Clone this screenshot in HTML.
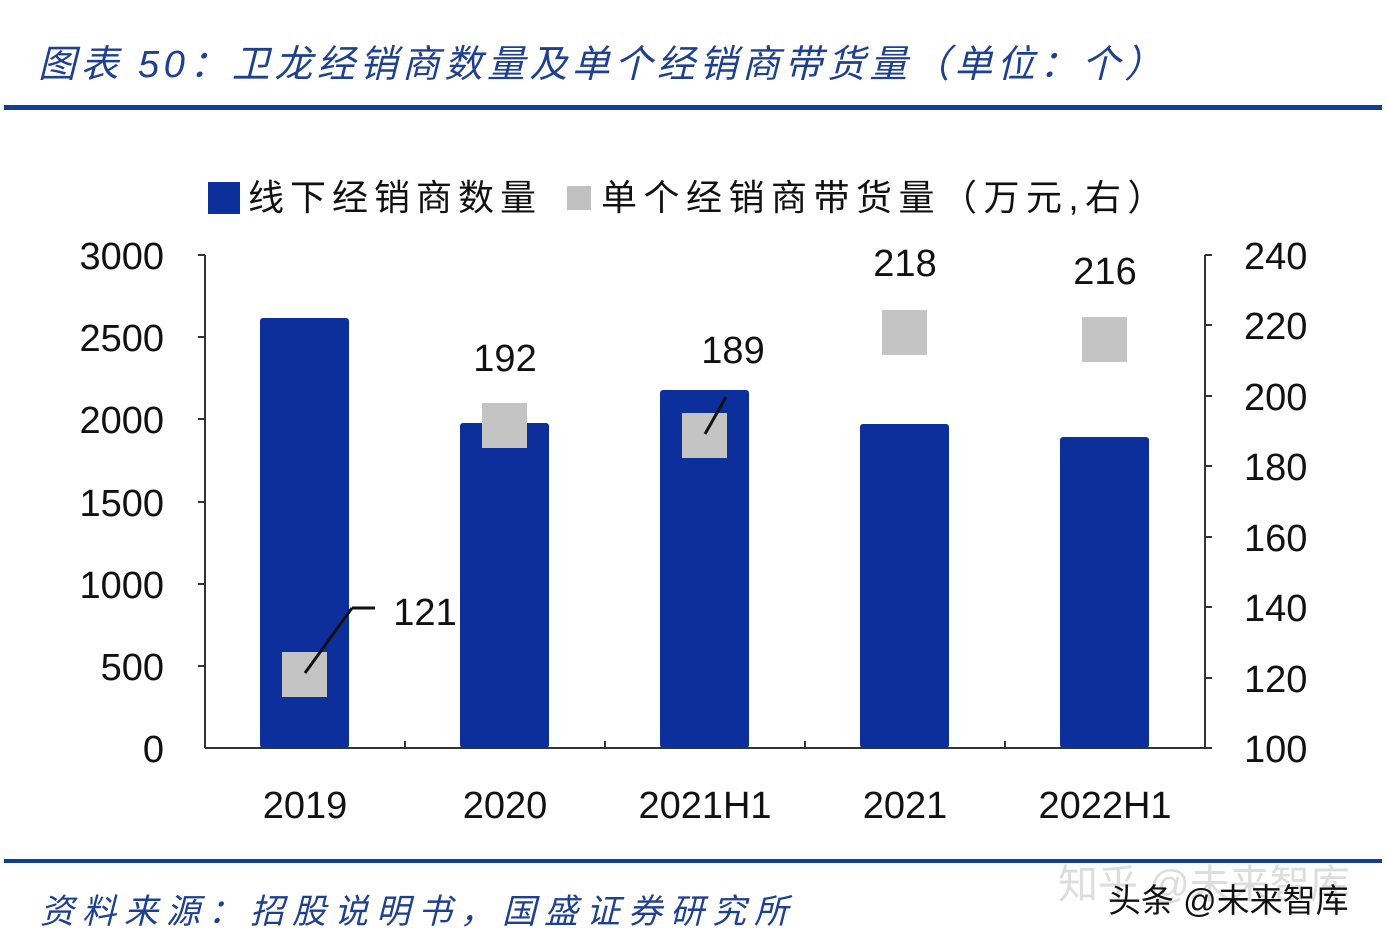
<!DOCTYPE html>
<html><head><meta charset="utf-8"><style>
body{margin:0;background:#fff;}
svg text{font-family:"Liberation Sans","Noto Sans CJK SC",sans-serif;}
</style></head><body>
<svg width="1388" height="942" viewBox="0 0 1388 942" xmlns="http://www.w3.org/2000/svg">
<rect width="1388" height="942" fill="#fff"/>
<text x="38" y="77" font-size="38" font-style="italic" fill="#1f3f8f" letter-spacing="4.5">图表 50：卫龙经销商数量及单个经销商带货量（单位：个）</text>
<rect x="4" y="105" width="1378" height="5" fill="#123d96"/>
<!-- legend -->
<rect x="208" y="182" width="32" height="32" fill="#0c2f9c"/>
<text x="248" y="210" font-size="36" fill="#111" letter-spacing="6">线下经销商数量</text>
<rect x="567" y="186" width="24" height="24" fill="#c0c0c0"/>
<text x="601" y="210" font-size="36" fill="#111" letter-spacing="6.5">单个经销商带货量（万元,右）</text>
<!-- axes -->
<g stroke="#333" stroke-width="2" fill="none">
<line x1="205" y1="255" x2="205" y2="748"/>
<line x1="1205" y1="255" x2="1205" y2="748"/>
<line x1="205" y1="748" x2="1205" y2="748"/>
<line x1="198" y1="255" x2="205" y2="255"/><line x1="198" y1="337" x2="205" y2="337"/><line x1="198" y1="419" x2="205" y2="419"/><line x1="198" y1="502" x2="205" y2="502"/><line x1="198" y1="584" x2="205" y2="584"/><line x1="198" y1="666" x2="205" y2="666"/>
<line x1="1205" y1="255" x2="1212" y2="255"/><line x1="1205" y1="325" x2="1212" y2="325"/><line x1="1205" y1="396" x2="1212" y2="396"/><line x1="1205" y1="466" x2="1212" y2="466"/><line x1="1205" y1="537" x2="1212" y2="537"/><line x1="1205" y1="607" x2="1212" y2="607"/><line x1="1205" y1="678" x2="1212" y2="678"/><line x1="1205" y1="748" x2="1212" y2="748"/>
<line x1="405" y1="741" x2="405" y2="748"/><line x1="605" y1="741" x2="605" y2="748"/><line x1="805" y1="741" x2="805" y2="748"/><line x1="1005" y1="741" x2="1005" y2="748"/>
</g>
<g font-size="38" fill="#111" text-anchor="end">
<text x="164" y="269">3000</text><text x="164" y="351">2500</text><text x="164" y="433">2000</text><text x="164" y="516">1500</text><text x="164" y="598">1000</text><text x="164" y="680">500</text><text x="164" y="762">0</text>
</g>
<g font-size="38" fill="#111">
<text x="1244" y="269">240</text><text x="1244" y="339">220</text><text x="1244" y="410">200</text><text x="1244" y="480">180</text><text x="1244" y="551">160</text><text x="1244" y="621">140</text><text x="1244" y="692">120</text><text x="1244" y="762">100</text>
</g>
<!-- bars -->
<g fill="#0c2f9c">
<rect x="260" y="318" width="89" height="430" rx="3"/>
<rect x="460" y="423" width="89" height="325" rx="3"/>
<rect x="660" y="390" width="89" height="358" rx="3"/>
<rect x="860" y="424" width="89" height="324" rx="3"/>
<rect x="1060" y="437" width="89" height="311" rx="3"/>
</g>
<g fill="#c4c4c4">
<rect x="282" y="652" width="45" height="45"/>
<rect x="482" y="403" width="45" height="45"/>
<rect x="682" y="413" width="45" height="45"/>
<rect x="882" y="310" width="45" height="45"/>
<rect x="1082" y="317" width="45" height="45"/>
</g>
<g stroke="#111" stroke-width="3">
<line x1="305" y1="673" x2="352" y2="608"/><line x1="352" y1="608" x2="375" y2="608"/>
<line x1="705" y1="434" x2="726" y2="397"/>
</g>
<g font-size="38" fill="#111" text-anchor="middle">
<text x="425" y="625">121</text>
<text x="505" y="371">192</text>
<text x="733" y="363">189</text>
<text x="905" y="276">218</text>
<text x="1105" y="284">216</text>
</g>
<g font-size="38" fill="#111" text-anchor="middle">
<text x="305" y="818">2019</text><text x="505" y="818">2020</text><text x="705" y="818">2021H1</text><text x="905" y="818">2021</text><text x="1105" y="818">2022H1</text>
</g>
<rect x="4" y="859" width="1378" height="4" fill="#123d96"/>
<text x="40" y="923" font-size="34" font-style="italic" fill="#1f3f8f" letter-spacing="8">资料来源：招股说明书，国盛证券研究所</text>
<text x="1058" y="898" font-size="40" fill="#ddd">知乎 @未来智库</text>
<text x="1108" y="912" font-size="33" fill="#111">头条 @未来智库</text>
</svg>
</body></html>
